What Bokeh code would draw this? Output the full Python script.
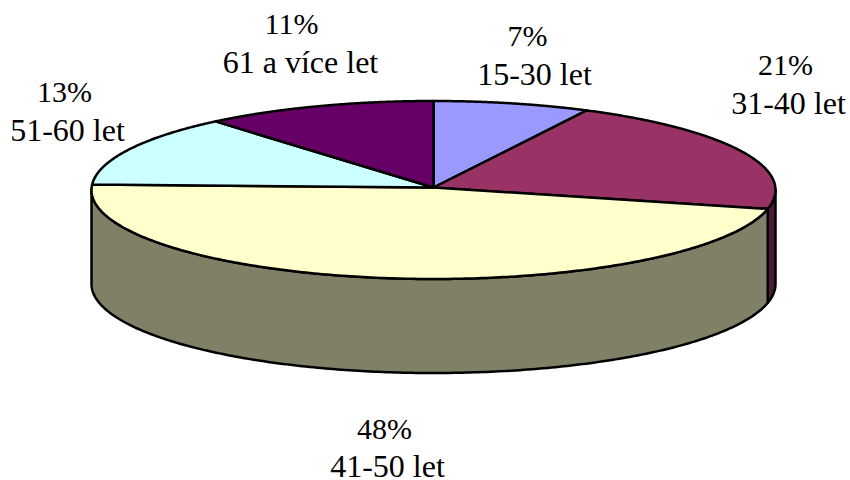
import numpy as np
from bokeh.plotting import figure
from bokeh.models import Range1d
from bokeh.core.properties import value
from bokeh.embed import file_html
from bokeh.resources import INLINE

# data
percent_labels = ["7%", "21%", "48%", "13%", "11%"]
categories = ["15-30 let", "31-40 let", "41-50 let", "51-60 let", "61 a více let"]
slice_shares = [7.4, 21, 47.6, 13, 11]
top_colors = ["#9999FF", "#993366", "#FFFFCC", "#CCFFFF", "#660066"]
wall_colors = ["#4C4C80", "#4C1A33", "#808066", "#668080", "#330033"]

# layout (page pixels)
W, H = 850, 480
CX, CY, RX, RY = 433, 189.5, 342, 89
APEX_Y = 187
DEPTH = 94
pct_x = [527, 785, 384, 64, 291]
cat_x = [534, 788, 387, 67, 300]
pct_y = [35, 64, 428, 91, 23]
cat_y = [73, 102, 465, 129, 61]

p = figure(width=W, height=H, output_backend="svg", toolbar_location=None,
           x_range=Range1d(0, W), y_range=Range1d(H, 0),
           min_border=0, outline_line_color=None, background_fill_color="white")
p.axis.visible = False
p.grid.visible = False


def rim(a0, a1):
    t = np.radians(np.linspace(a0, a1, 240))
    return CX + RX * np.sin(t), CY - RY * np.cos(t)


edges = np.cumsum([0] + slice_shares) * 3.6

# side walls (only the front half, 90-270 degrees, is visible)
for i in range(len(slice_shares)):
    a0, a1 = max(edges[i], 90), min(edges[i + 1], 270)
    if a1 <= a0:
        continue
    x, y = rim(a0, a1)
    xs = np.concatenate([x, x[::-1]])
    ys = np.concatenate([y, (y + DEPTH)[::-1]])
    p.patch(xs, ys, fill_color=wall_colors[i], line_color="black", line_width=2.5, line_join="round")

# top faces
for i in range(len(slice_shares)):
    x, y = rim(edges[i], edges[i + 1])
    xs = np.concatenate([[CX], x])
    ys = np.concatenate([[APEX_Y], y])
    p.patch(xs, ys, fill_color=top_colors[i], line_color="black", line_width=2.5, line_join="round")

# labels
font = value("Liberation Serif")
p.text(pct_x, pct_y, text=percent_labels, text_font=font, text_font_size="30px",
       text_color="black", text_align="center", text_baseline="alphabetic")
p.text(cat_x, cat_y, text=categories, text_font=font, text_font_size="32px",
       text_color="black", text_align="center", text_baseline="alphabetic")

open("out.html", "w").write(file_html(p, INLINE))
